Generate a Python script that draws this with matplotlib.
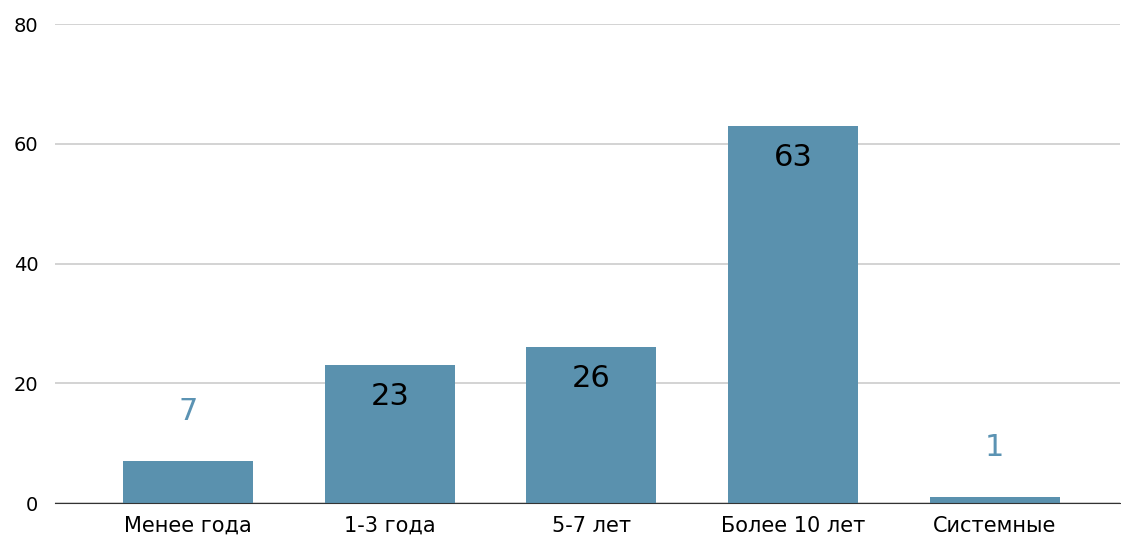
import matplotlib
matplotlib.use("Agg")
import matplotlib.pyplot as plt

plt.rcParams['font.family'] = ['DejaVu Sans']

categories = ['Менее года', '1-3 года', '5-7 лет', 'Более 10 лет', 'Системные']
values = [7, 23, 26, 63, 1]
inside = [False, True, True, True, False]

bar_color = '#5a91ae'

fig = plt.figure(figsize=(11.21, 5.37), dpi=100)
ax = fig.add_axes([0.049, 0.0633, 0.95, 0.892])

x = range(len(categories))
bars = ax.bar(x, values, width=0.645, color=bar_color, zorder=3)

for xi, v, ins in zip(x, values, inside):
    if ins:
        ax.annotate(str(v), (xi, v), xytext=(0, -22.5), textcoords='offset points',
                    ha='center', va='center', fontsize=22, color='black', zorder=4)
    else:
        ax.annotate(str(v), (xi, v), xytext=(0, 36), textcoords='offset points',
                    ha='center', va='center', fontsize=22, color='#5b93b3', zorder=4)

ax.set_ylim(0, 80)
ax.set_yticks([0, 20, 40, 60, 80])
ax.set_xlim(-0.66, 4.62)
ax.set_xticks(list(x))
ax.set_xticklabels(categories)
ax.grid(axis='y', color='#cccccc', linewidth=1.2, zorder=0)
ax.tick_params(axis='both', length=0)
ax.tick_params(axis='x', pad=9, labelsize=15)
ax.tick_params(axis='y', pad=12, labelsize=14)
for s in ['top', 'right', 'left']:
    ax.spines[s].set_visible(False)
ax.spines['bottom'].set_color('#333333')
ax.spines['bottom'].set_zorder(5)

fig.savefig('out.png', dpi=100)
